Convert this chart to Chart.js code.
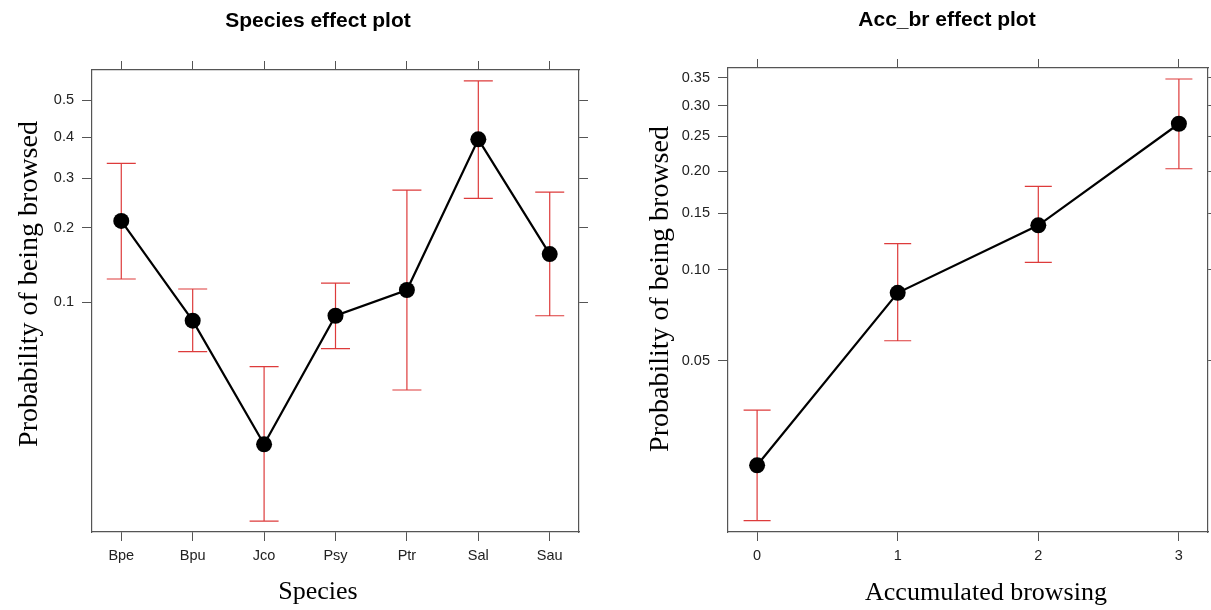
<!DOCTYPE html>
<html>
<head>
<meta charset="utf-8">
<title>Species and Acc_br effect plots</title>
<script src="https://cdn.jsdelivr.net/npm/chart.js@4.4.1/dist/chart.umd.min.js"></script>
<style>
  html, body { margin: 0; padding: 0; background: #fff; overflow: hidden; }
  body { width: 1211px; height: 610px; position: relative; }
  canvas { position: absolute; top: 0; }
  #species-canvas { left: 0; }
  #acc-canvas { left: 636px; }
</style>
</head>
<body>
<canvas id="species-canvas" width="636" height="610"></canvas>
<canvas id="acc-canvas" width="618" height="610"></canvas>
<script>
// ---- data (probabilities) ----
const speciesNames = ['Bpe', 'Bpu', 'Jco', 'Psy', 'Ptr', 'Sal', 'Sau'];
const speciesFit = [0.212, 0.0834, 0.0232, 0.0876, 0.1127, 0.395, 0.158];
const speciesLower = [0.1252, 0.0611, 0.0102, 0.063, 0.0411, 0.2558, 0.0876];
const speciesUpper = [0.3345, 0.1138, 0.0524, 0.1205, 0.2734, 0.552, 0.269];
const speciesTicks = [0.1, 0.2, 0.3, 0.4, 0.5];
const speciesYRange = [0.00908, 0.581];

const accLevels = [0, 1, 2, 3];
const accFit = [0.0218, 0.0842, 0.138, 0.2695];
const accLower = [0.01396, 0.0584, 0.1056, 0.2031];
const accUpper = [0.0339, 0.121, 0.1806, 0.3476];
const accTicks = [0.05, 0.10, 0.15, 0.20, 0.25, 0.30, 0.35];
const accYRange = [0.01272, 0.3684];

// ---- logit probability axis, as used by effects/lattice ----
const logit = (p) => Math.log(p / (1 - p));
const expit = (z) => 1 / (1 + Math.exp(-z));

class LogitScale extends Chart.Scale {
  static id = 'logit';
  static defaults = {};

  determineDataLimits() {
    this.min = this.options.min;
    this.max = this.options.max;
  }

  buildTicks() {
    return this.options.tickValues.map((value) => ({ value }));
  }

  configure() {
    super.configure();
    this._lo = logit(this.min);
    this._span = logit(this.max) - this._lo;
  }

  getPixelForValue(value) {
    return this.getPixelForDecimal((logit(value) - this._lo) / this._span);
  }

  getValueForPixel(pixel) {
    return expit(this._lo + this.getDecimalForPixel(pixel) * this._span);
  }

  getLabelForValue(value) {
    return String(value);
  }
}
Chart.register(LogitScale);

const AXIS_COLOR = '#555';
const TICK_FONT = { family: 'Liberation Sans', size: 14.5 };

// red confidence bars with caps, drawn under the fitted line
const errorBarPlugin = {
  id: 'errorBars',
  beforeDatasetsDraw(chart, args, opts) {
    const { ctx } = chart;
    const x = chart.scales.x;
    const y = chart.scales.y;
    ctx.save();
    ctx.strokeStyle = opts.color;
    ctx.lineWidth = opts.width;
    for (const ds of chart.data.datasets) {
      ds.data.forEach((pt, i) => {
        const px = x.getPixelForValue(pt.x);
        const top = y.getPixelForValue(ds.upper[i]);
        const bottom = y.getPixelForValue(ds.lower[i]);
        ctx.beginPath();
        ctx.moveTo(px, top);
        ctx.lineTo(px, bottom);
        ctx.moveTo(px - opts.capHalf, top);
        ctx.lineTo(px + opts.capHalf, top);
        ctx.moveTo(px - opts.capHalf, bottom);
        ctx.lineTo(px + opts.capHalf, bottom);
        ctx.stroke();
      });
    }
    ctx.restore();
  },
};

// panel title and axis titles at fixed spots
const panelTextPlugin = {
  id: 'panelText',
  afterDraw(chart, args, opts) {
    const { ctx } = chart;
    for (const item of opts.items) {
      ctx.save();
      ctx.fillStyle = item.color || '#000';
      ctx.font = item.font;
      ctx.textAlign = 'center';
      ctx.textBaseline = 'alphabetic';
      ctx.translate(item.x, item.y);
      if (item.rotate) ctx.rotate(item.rotate);
      ctx.fillText(item.text, 0, 0);
      ctx.restore();
    }
  },
};

function fixedSize(prop, size) {
  return (scale) => { scale[prop] = size; };
}

function setTicks(values) {
  return (scale) => { scale.ticks = values.map((value) => ({ value })); };
}

function edgeGrid(len) {
  return { drawOnChartArea: false, drawTicks: true, tickLength: len, color: AXIS_COLOR, lineWidth: 1 };
}

function createEffectPlot(canvas, cfg) {
  const xMin = cfg.xValues[0] - cfg.xPad;
  const xMax = cfg.xValues[cfg.xValues.length - 1] + cfg.xPad;
  const border = { display: true, color: AXIS_COLOR, width: 1.2 };

  return new Chart(canvas, {
    type: 'line',
    data: {
      datasets: [{
        data: cfg.xValues.map((x, i) => ({ x, y: cfg.fit[i] })),
        lower: cfg.lower,
        upper: cfg.upper,
        borderColor: '#000',
        borderWidth: 2.2,
        pointRadius: 8,
        pointBackgroundColor: '#000',
        pointBorderWidth: 0,
        tension: 0,
      }],
    },
    options: {
      responsive: false,
      animation: false,
      layout: { padding: { top: cfg.top - 9, left: 0, right: 0, bottom: 0 } },
      plugins: {
        legend: { display: false },
        tooltip: { enabled: false },
        errorBars: { color: '#dd3b3b', width: 1.2, capHalf: cfg.capHalf },
        panelText: { items: cfg.texts },
      },
      scales: {
        x: {
          type: 'linear',
          position: 'bottom',
          min: xMin,
          max: xMax,
          afterBuildTicks: setTicks(cfg.xValues),
          afterFit: fixedSize('height', 610 - 532),
          grid: edgeGrid(9),
          border,
          ticks: {
            autoSkip: false,
            maxRotation: 0,
            padding: 6,
            color: '#222',
            font: TICK_FONT,
            callback: (v) => cfg.xLabels[cfg.xValues.indexOf(v)],
          },
        },
        x2: {
          type: 'linear',
          position: 'top',
          min: xMin,
          max: xMax,
          afterBuildTicks: setTicks(cfg.xValues),
          afterFit: fixedSize('height', 9),
          grid: edgeGrid(9),
          border,
          ticks: { display: false },
        },
        y: {
          type: 'logit',
          position: 'left',
          min: cfg.yRange[0],
          max: cfg.yRange[1],
          tickValues: cfg.yTicks,
          afterFit: fixedSize('width', 92),
          grid: edgeGrid(10),
          border,
          ticks: {
            padding: 8,
            color: '#222',
            font: TICK_FONT,
            callback: cfg.yFormat,
          },
        },
        y2: {
          type: 'logit',
          position: 'right',
          min: cfg.yRange[0],
          max: cfg.yRange[1],
          tickValues: cfg.yTicks,
          afterFit: fixedSize('width', cfg.rightWidth),
          grid: edgeGrid(9),
          border,
          ticks: { display: false },
        },
      },
    },
    plugins: [errorBarPlugin, panelTextPlugin],
  });
}

const TITLE_FONT = 'bold 21px "Liberation Sans"';
const X_TITLE_FONT = '26px "Liberation Serif"';
const Y_TITLE_FONT = '28px "Liberation Serif"';
const Y_LABEL = 'Probability of being browsed';

createEffectPlot(document.getElementById('species-canvas'), {
  xValues: speciesNames.map((_, i) => i),
  xLabels: speciesNames,
  xPad: 0.41,
  fit: speciesFit,
  lower: speciesLower,
  upper: speciesUpper,
  yTicks: speciesTicks,
  yRange: speciesYRange,
  yFormat: (v) => String(v),
  top: 70,
  rightWidth: 636 - 579,
  capHalf: 14.5,
  texts: [
    { text: 'Species effect plot', x: 318, y: 26.7, font: TITLE_FONT },
    { text: 'Species', x: 318, y: 599, font: X_TITLE_FONT },
    { text: Y_LABEL, x: 37, y: 284, font: Y_TITLE_FONT, rotate: -Math.PI / 2 },
  ],
});

createEffectPlot(document.getElementById('acc-canvas'), {
  xValues: accLevels,
  xLabels: accLevels.map(String),
  xPad: 0.207,
  fit: accFit,
  lower: accLower,
  upper: accUpper,
  yTicks: accTicks,
  yRange: accYRange,
  yFormat: (v) => v.toFixed(2),
  top: 68,
  rightWidth: 618 - 572,
  capHalf: 13.5,
  texts: [
    { text: 'Acc_br effect plot', x: 311, y: 26, font: TITLE_FONT },
    { text: 'Accumulated browsing', x: 350, y: 600, font: X_TITLE_FONT },
    { text: Y_LABEL, x: 32, y: 289, font: Y_TITLE_FONT, rotate: -Math.PI / 2 },
  ],
});
</script>
</body>
</html>
